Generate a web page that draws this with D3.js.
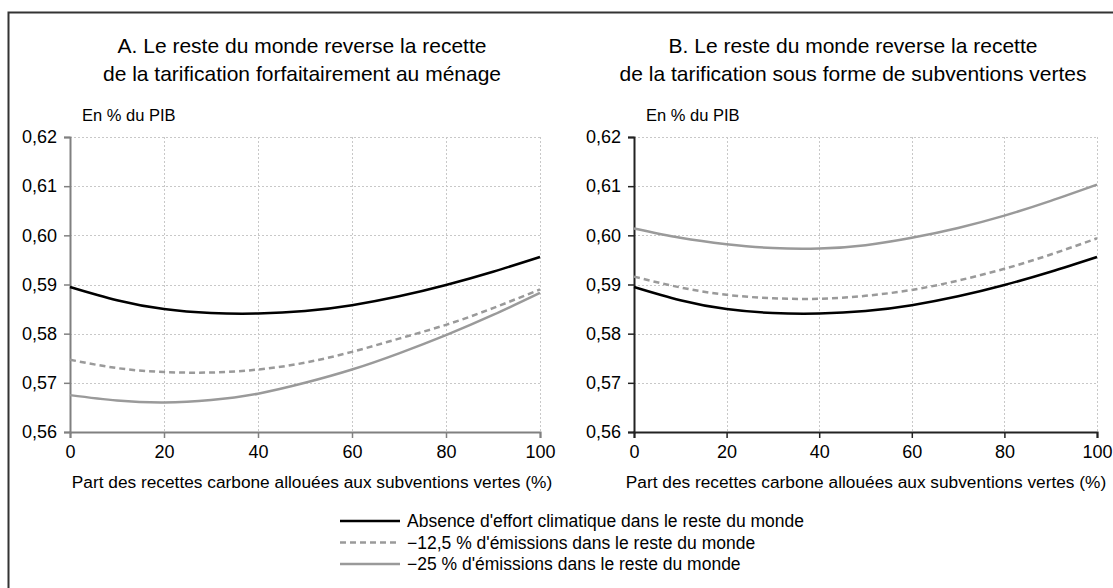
<!DOCTYPE html>
<html>
<head>
<meta charset="utf-8">
<script src="https://cdn.jsdelivr.net/npm/d3@7"></script>
<style>
  body { margin: 0; background: #fff; }
  svg { font-family: "Liberation Sans", Arial, sans-serif; }
</style>
</head>
<body>
<div id="chart"></div>
<script>
// Part des recettes allouees aux subventions vertes (%)
const shares = [0, 10, 20, 30, 40, 50, 60, 70, 80, 90, 100];

// Panel A : reversement forfaitaire au menage
const aNoEffort = [0.5895, 0.5868, 0.5850, 0.5842, 0.5841, 0.5846, 0.5858, 0.5876, 0.5899, 0.5926, 0.5956];
const aMinus125 = [0.5747, 0.5730, 0.5722, 0.5721, 0.5727, 0.5741, 0.5763, 0.5790, 0.5818, 0.5852, 0.5890];
const aMinus25  = [0.5675, 0.5664, 0.5660, 0.5665, 0.5678, 0.5700, 0.5727, 0.5760, 0.5797, 0.5838, 0.5883];

// Panel B : reversement en subventions vertes
const bNoEffort = [0.5895, 0.5868, 0.5850, 0.5842, 0.5841, 0.5846, 0.5858, 0.5876, 0.5899, 0.5926, 0.5956];
const bMinus125 = [0.5916, 0.5894, 0.5879, 0.5872, 0.5871, 0.5877, 0.5889, 0.5908, 0.5932, 0.5961, 0.5994];
const bMinus25  = [0.6014, 0.5995, 0.5982, 0.5974, 0.5973, 0.5980, 0.5995, 0.6015, 0.6040, 0.6070, 0.6103];

const yTicks = [0.56, 0.57, 0.58, 0.59, 0.60, 0.61, 0.62];
const xTicks = [0, 20, 40, 60, 80, 100];

const seriesNames = [
  "Absence d'effort climatique dans le reste du monde",
  "\u221212,5 % d'émissions dans le reste du monde",
  "\u221225 % d'émissions dans le reste du monde"
];

const panelTitles = [
  ["A. Le reste du monde reverse la recette", "de la tarification forfaitairement au ménage"],
  ["B. Le reste du monde reverse la recette", "de la tarification sous forme de subventions vertes"]
];

const xTitle = "Part des recettes carbone allouées aux subventions vertes (%)";
const yUnit = "En % du PIB";

const width = 1113, height = 588;
const styles = [
  { color: "#000", dash: null },
  { color: "#9a9a9a", dash: "6,4" },
  { color: "#9a9a9a", dash: null }
];

const svg = d3.select("#chart").append("svg")
  .attr("width", width)
  .attr("height", height);

// outer frame
svg.append("rect")
  .attr("x", 8.5).attr("y", 12.5)
  .attr("width", 1200).attr("height", 700)
  .attr("fill", "none")
  .attr("stroke", "#333")
  .attr("stroke-width", 2);

const fmt = d => d.toFixed(2).replace(".", ",");

const panels = [
  { left: 70, right: 540, titleX: 302, xTitleX: 312, axisColor: "#808080", data: [aNoEffort, aMinus125, aMinus25], titles: panelTitles[0] },
  { left: 634, right: 1097, titleX: 853, xTitleX: 866, axisColor: "#222", data: [bNoEffort, bMinus125, bMinus25], titles: panelTitles[1] }
];

const plotTop = 137, plotBottom = 432;

panels.forEach(p => {
  const x = d3.scaleLinear().domain([0, 100]).range([p.left, p.right]);
  const y = d3.scaleLinear().domain([0.56, 0.62]).range([plotBottom, plotTop]);
  const g = svg.append("g");

  // titles
  p.titles.forEach((t, i) => {
    g.append("text")
      .attr("x", p.titleX).attr("y", 53 + i * 28)
      .attr("text-anchor", "middle")
      .attr("font-size", 21)
      .attr("fill", "#000")
      .text(t);
  });

  g.append("text")
    .attr("x", p.left + 12).attr("y", 121)
    .attr("font-size", 16.5)
    .attr("fill", "#000")
    .text(yUnit);

  // gridlines
  g.selectAll(".hgrid")
    .data(yTicks.filter(d => d > 0.56))
    .enter().append("line")
    .attr("x1", p.left).attr("x2", p.right)
    .attr("y1", d => Math.round(y(d)) + 0.5).attr("y2", d => Math.round(y(d)) + 0.5)
    .attr("stroke", "#c8c8c8")
    .attr("stroke-dasharray", "2,2");

  g.selectAll(".vgrid")
    .data(xTicks.filter(d => d > 0))
    .enter().append("line")
    .attr("x1", d => Math.round(x(d)) + 0.5).attr("x2", d => Math.round(x(d)) + 0.5)
    .attr("y1", plotTop).attr("y2", plotBottom)
    .attr("stroke", "#c8c8c8")
    .attr("stroke-dasharray", "2,2");

  // axes
  const yAxis = g.append("g")
    .attr("transform", `translate(${p.left},0)`)
    .call(d3.axisLeft(y).tickValues(yTicks).tickFormat(fmt).tickSizeOuter(0).tickSize(6));
  const xAxis = g.append("g")
    .attr("transform", `translate(0,${plotBottom})`)
    .call(d3.axisBottom(x).tickValues(xTicks).tickSizeOuter(0).tickSize(6));

  [yAxis, xAxis].forEach(ax => {
    ax.select(".domain").attr("stroke", p.axisColor).attr("stroke-width", 2);
    ax.selectAll(".tick line").attr("stroke", p.axisColor).attr("stroke-width", 1.5);
    ax.selectAll(".tick text").attr("font-size", 18).attr("fill", "#000")
      .attr("font-family", "'Liberation Sans', Arial, sans-serif");
  });
  yAxis.selectAll(".tick text").attr("x", -13);
  xAxis.selectAll(".tick text").attr("y", 13);

  g.append("text")
    .attr("x", p.xTitleX).attr("y", 488)
    .attr("text-anchor", "middle")
    .attr("font-size", 17.3)
    .attr("fill", "#000")
    .text(xTitle);

  // series
  const line = d3.line()
    .x((d, i) => x(shares[i]))
    .y(d => y(d))
    .curve(d3.curveNatural);

  // draw grey ones first, black on top
  [2, 1, 0].forEach(k => {
    g.append("path")
      .datum(p.data[k])
      .attr("d", line)
      .attr("fill", "none")
      .attr("stroke", styles[k].color)
      .attr("stroke-width", 2.5)
      .attr("stroke-dasharray", styles[k].dash);
  });
});

// legend
const legend = svg.append("g");
seriesNames.forEach((name, i) => {
  const yy = 521 + i * 21.5;
  legend.append("line")
    .attr("x1", 340).attr("x2", 400)
    .attr("y1", yy).attr("y2", yy)
    .attr("stroke", styles[i].color)
    .attr("stroke-width", 2.5)
    .attr("stroke-dasharray", styles[i].dash);
  legend.append("text")
    .attr("x", 407).attr("y", yy + 6)
    .attr("font-size", 17.5)
    .attr("fill", "#000")
    .text(name);
});
</script>
</body>
</html>
